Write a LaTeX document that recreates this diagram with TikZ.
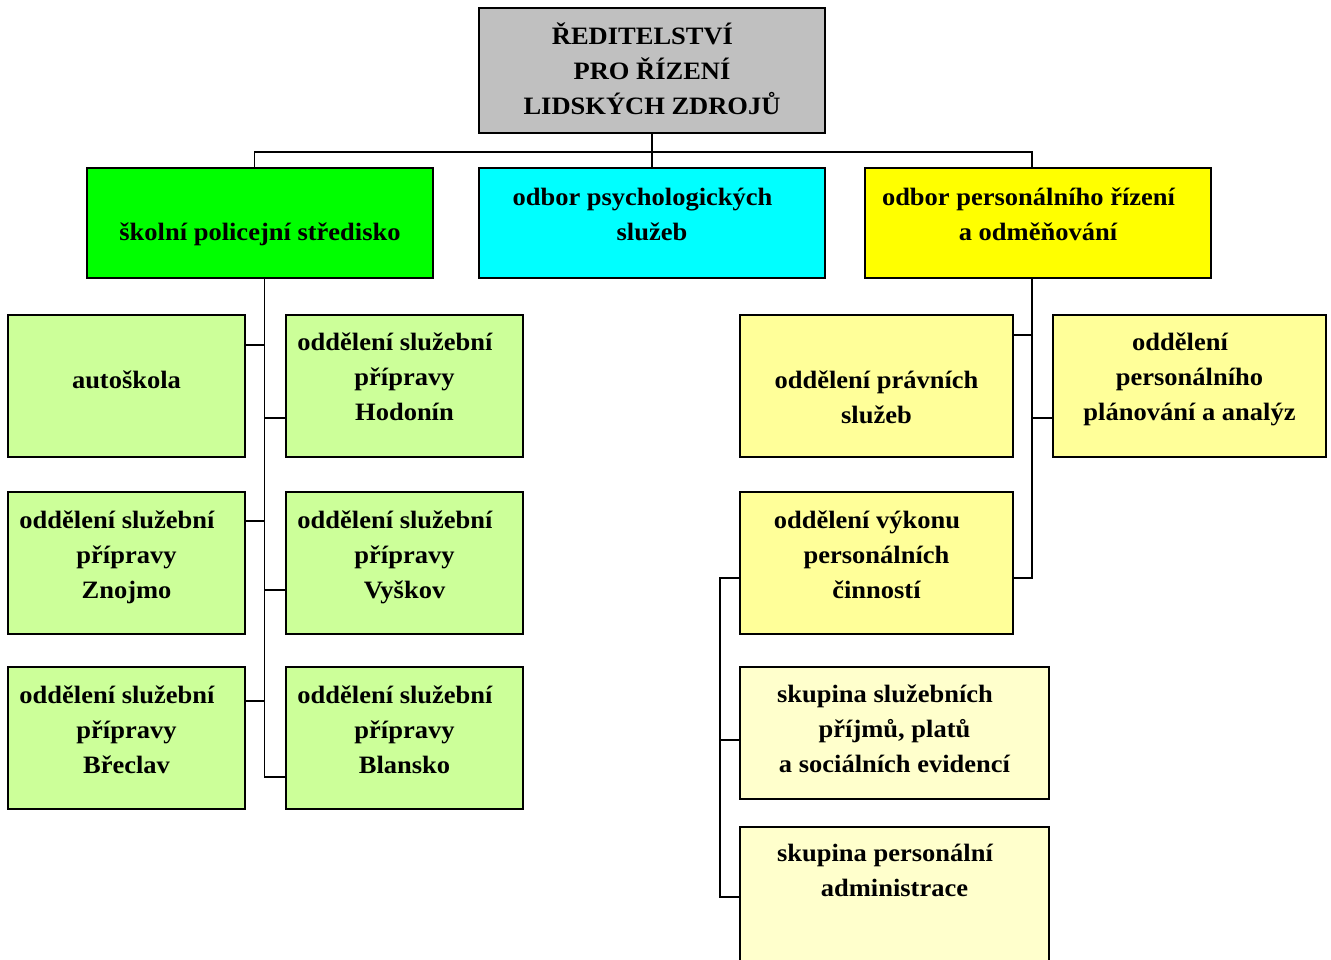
\documentclass[tikz,border=0pt]{standalone}
\usepackage{fontspec}
\setmainfont{Liberation Serif}[FakeStretch=1.06]
\usetikzlibrary{positioning}

\definecolor{headgray}{HTML}{C0C0C0}
\definecolor{skolgreen}{HTML}{00FF00}
\definecolor{psycyan}{HTML}{00FFFF}
\definecolor{persyellow}{HTML}{FFFF00}
\definecolor{unitgreen}{HTML}{CCFF99}
\definecolor{sectyellow}{HTML}{FFFF99}
\definecolor{grouppale}{HTML}{FFFFCC}

% text of a box: first baseline #1 above the centre
\newcommand{\boxtxt}[2]{\smash{\raisebox{#1}{\begin{tabular}[t]{@{}c@{}}#2\end{tabular}}}}
\newcommand{\tsp}{\hspace*{19pt}}

\begin{document}
\begin{tikzpicture}[x=1pt,y=-1pt,
    block/.style={draw,rectangle,line width=2pt,outer sep=0pt,inner sep=0pt,
      font=\fontsize{25}{35}\selectfont\bfseries},
    dept/.style={block,minimum width=346pt,minimum height=110pt},
    unit/.style={block,fill=unitgreen,minimum width=237pt,minimum height=142pt},
    sect/.style={block,fill=sectyellow,minimum width=273pt,minimum height=142pt},
    group/.style={block,fill=grouppale,minimum width=309pt},
    link/.style={line width=1.9pt}]

    \useasboundingbox (0,0) rectangle (1331,959);

    \node [block, fill=headgray, minimum width=346pt, minimum height=125pt] (top) at (652,70.5)
        {\boxtxt{26.5pt}{ŘEDITELSTVÍ\tsp\\PRO ŘÍZENÍ\\LIDSKÝCH ZDROJŮ}};

    \node [dept, fill=psycyan, below=35pt of top] (psych) {\boxtxt{18pt}{odbor psychologických\tsp\\služeb}};
    \node [dept, fill=skolgreen, left=46pt of psych] (skol) {\boxtxt{-17pt}{školní policejní středisko}};
    \node [dept, fill=persyellow, right=40pt of psych] (pers) {\boxtxt{18pt}{odbor personálního řízení\tsp\\a odměňování}};

    % skolni policejni stredisko
    \node [unit] (auto) at (126.5,386) {\boxtxt{-2pt}{autoškola}};
    \node [unit, right=41pt of auto] (hod) {\boxtxt{36pt}{oddělení služební\tsp\\přípravy\\Hodonín}};
    \node [unit, below=35pt of auto] (zno) {\boxtxt{35pt}{oddělení služební\tsp\\přípravy\\Znojmo}};
    \node [unit, below=35pt of hod] (vys) {\boxtxt{35pt}{oddělení služební\tsp\\přípravy\\Vyškov}};
    \node [unit, below=33pt of zno] (bre) {\boxtxt{35pt}{oddělení služební\tsp\\přípravy\\Břeclav}};
    \node [unit, below=33pt of vys] (bla) {\boxtxt{35pt}{oddělení služební\tsp\\přípravy\\Blansko}};

    % odbor personalniho rizeni
    \node [sect] (prav) at (876.5,386) {\boxtxt{-2pt}{oddělení právních\\služeb}};
    \node [sect, right=40pt of prav] (plan) {\boxtxt{36pt}{oddělení\tsp\\personálního\\plánování a analýz}};
    \node [sect, below=35pt of prav] (vyk) {\boxtxt{35pt}{oddělení výkonu\tsp\\personálních\\činností}};
    \node [group, minimum height=132pt, below right=33pt and 0pt of vyk.south west] (sluz)
        {\boxtxt{31pt}{skupina služebních\tsp\\příjmů, platů\\a sociálních evidencí}};
    \node [group, minimum height=135pt, below=28pt of sluz] (adm) {\boxtxt{33pt}{skupina personální\tsp\\administrace}};

    % connectors
    \draw [link] (top) -- (psych);
    \draw [link] ([xshift=-5.5pt]skol.north) -- ++(0,16pt) -| ([xshift=-6pt]pers.north);

    \coordinate (gtrunk) at ([xshift=4.5pt]skol.south);
    \draw [link] (gtrunk) |- ([yshift=-39pt]bla.west);
    \draw [link] ([yshift=41pt]auto.east) -| (gtrunk);
    \draw [link] ([yshift=-32pt]hod.west) -| (gtrunk);
    \draw [link] ([yshift=42pt]zno.east) -| (gtrunk);
    \draw [link] ([yshift=-27pt]vys.west) -| (gtrunk);
    \draw [link] ([yshift=37pt]bre.east) -| (gtrunk);

    \coordinate (ytrunk) at ([xshift=-6pt]pers.south);
    \draw [link] (ytrunk) |- ([yshift=-15pt]vyk.east);
    \draw [link] ([yshift=51pt]prav.east) -| (ytrunk);
    \draw [link] ([yshift=-32pt]plan.west) -| (ytrunk);

    \coordinate (lbar) at ([shift={(-20pt,-15pt)}]vyk.west);
    \draw [link] ([yshift=-15pt]vyk.west) -- (lbar) |- ([yshift=-2.5pt]adm.west);
    \draw [link] ([yshift=-7pt]sluz.west) -| (lbar);
\end{tikzpicture}
\end{document}
